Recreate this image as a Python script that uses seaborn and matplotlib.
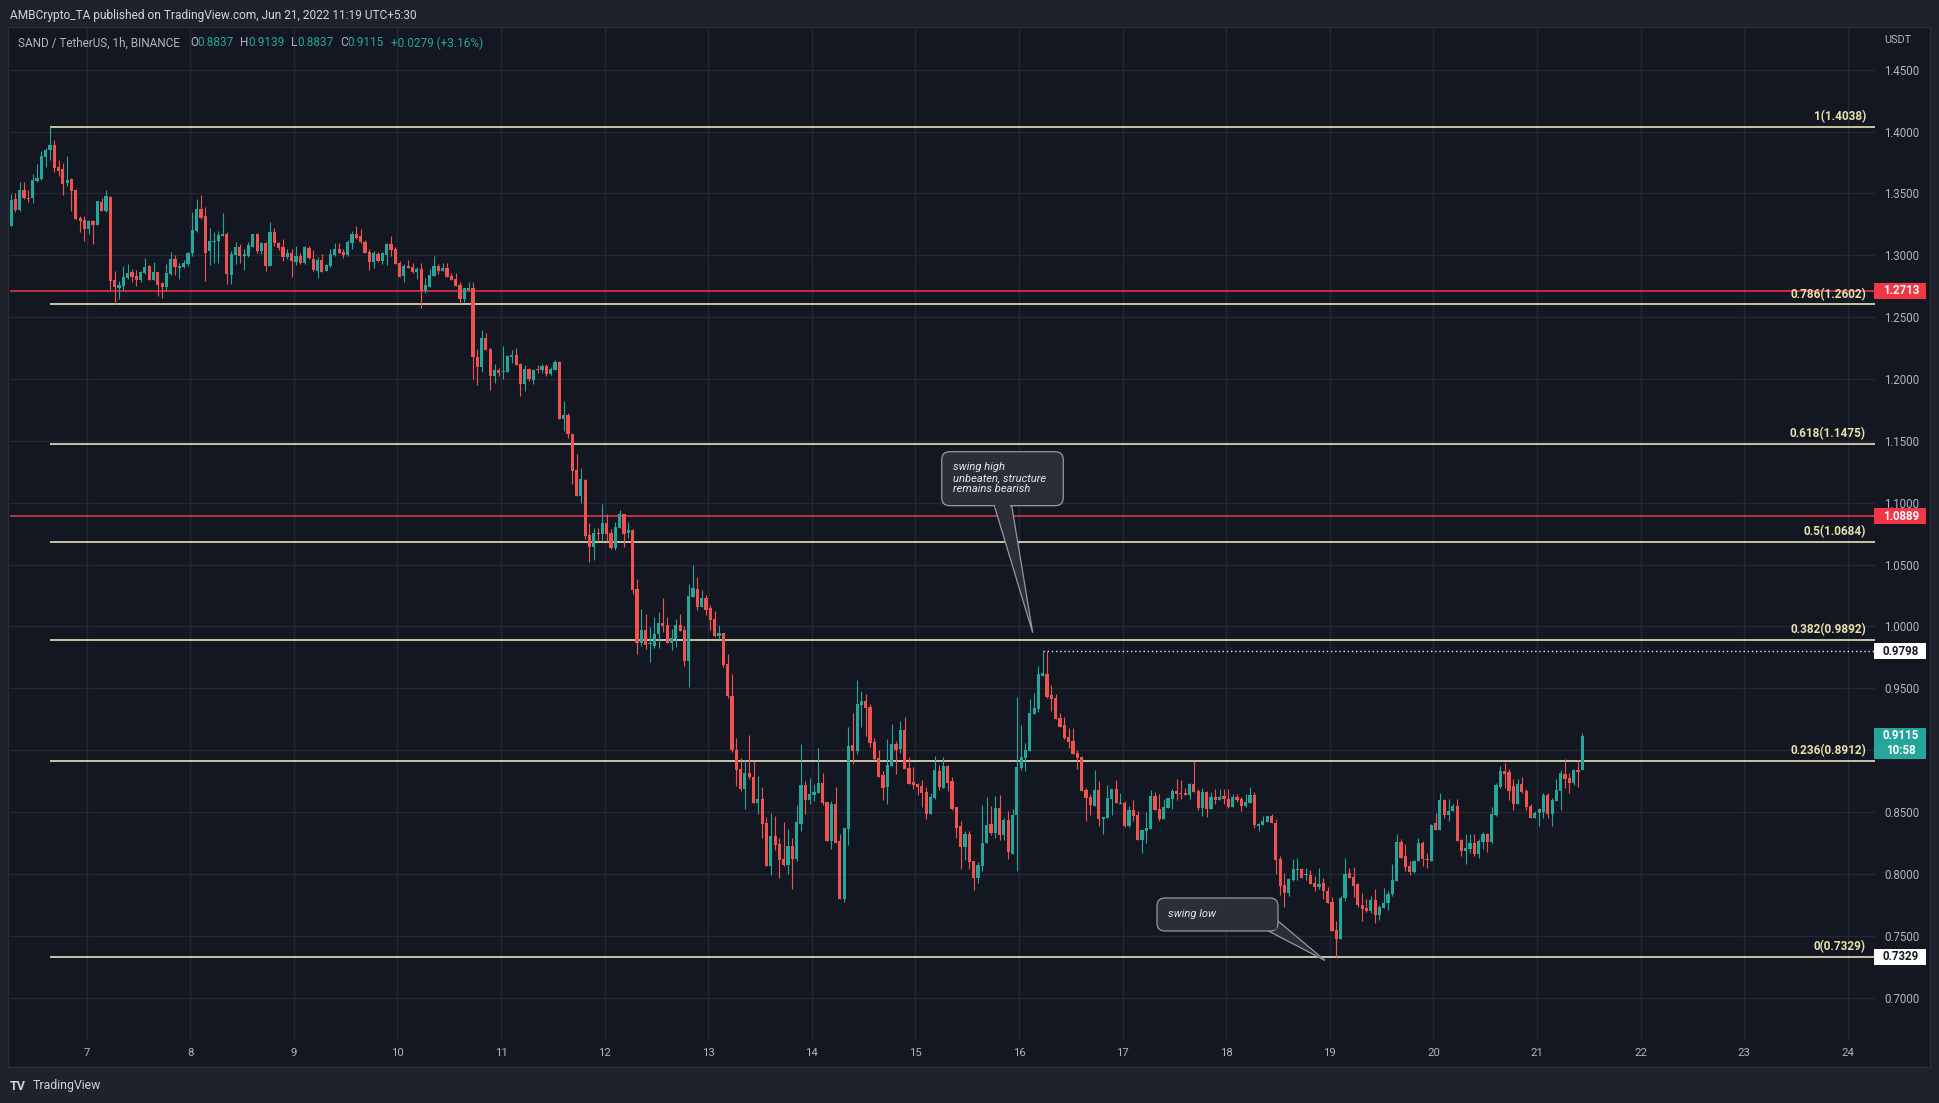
import numpy as np
import pandas as pd
import matplotlib
matplotlib.use("Agg")
import matplotlib.pyplot as plt
import seaborn as sns
from matplotlib.patches import FancyBboxPatch, Polygon, Rectangle

# ---------------- data (SAND/USDT 1h) ----------------
first_candle = "2022-06-06 06:30"
opens = [
 1.3238,1.3453,1.3365,1.3526,1.3464,1.3459,1.3599,1.3615,1.3796,1.3847,
 1.3890,1.3712,1.3696,1.3583,1.3615,1.3526,1.3302,1.3281,1.3211,1.3276,
 1.3243,1.3429,1.3356,1.3470,1.2796,1.2734,1.2753,1.2820,1.2863,1.2831,
 1.2801,1.2858,1.2912,1.2801,1.2863,1.2774,1.2745,1.2850,1.2968,1.2898,
 1.2904,1.2928,1.3019,1.3197,1.3373,1.3316,1.3036,1.3108,1.3117,1.3157,
 1.3170,1.2842,1.3003,1.3065,1.2992,1.2995,1.3065,1.3170,1.3036,1.3098,
 1.2914,1.3184,1.3095,1.3063,1.2985,1.3022,1.2944,1.2992,1.2936,1.3057,
 1.2968,1.2874,1.2960,1.2874,1.2914,1.3003,1.3049,1.3028,1.3001,1.3098,
 1.3170,1.3154,1.3106,1.3025,1.2944,1.3009,1.2952,1.3001,1.3090,1.3049,
 1.2936,1.2831,1.2909,1.2904,1.2863,1.2887,1.2707,1.2745,1.2831,1.2909,
 1.2871,1.2895,1.2831,1.2807,1.2758,1.2645,1.2718,1.2734,1.2181,1.2098,
 1.2330,1.2241,1.2025,1.2071,1.2057,1.2057,1.2178,1.2192,1.2119,1.1958,
 1.2079,1.1993,1.2079,1.2071,1.2103,1.2038,1.2073,1.2138,1.1675,1.1707,
 1.1553,1.1262,1.1055,1.1181,1.0737,1.0642,1.0758,1.0745,1.0834,1.0753,
 1.0632,1.0796,1.0906,1.0753,1.0777,1.0300,0.9863,0.9969,0.9855,0.9842,
 0.9936,1.0025,1.0009,0.9869,0.9896,1.0009,0.9969,0.9721,1.0238,1.0300,
 1.0157,1.0227,1.0146,1.0058,0.9923,0.9944,0.9694,0.9438,0.9002,0.8845,
 0.8684,0.8818,0.8786,0.8576,0.8603,0.8409,0.8064,0.8306,0.8239,0.8118,
 0.8069,0.8225,0.8118,0.8401,0.8716,0.8597,0.8638,0.8654,0.8732,0.8578,
 0.8266,0.8562,0.8263,0.7794,0.8360,0.9040,0.8994,0.9366,0.9395,0.9347,
 0.9064,0.8934,0.8797,0.8700,0.8870,0.9048,0.9007,0.9161,0.8853,0.8740,
 0.8724,0.8708,0.8659,0.8481,0.8611,0.8829,0.8692,0.8870,0.8748,0.8538,
 0.8384,0.8215,0.8320,0.8102,0.7964,0.8064,0.8247,0.8401,0.8328,0.8536,
 0.8312,0.8436,0.8158,0.8473,0.8854,0.8934,0.8991,0.9290,0.9331,0.9597,
 0.9614,0.9444,0.9419,0.9261,0.9201,0.9104,0.9072,0.8975,0.8942,0.8676,
 0.8619,0.8546,0.8676,0.8441,0.8449,0.8603,0.8684,0.8562,0.8573,0.8387,
 0.8514,0.8473,0.8271,0.8347,0.8360,0.8630,0.8522,0.8441,0.8530,0.8603,
 0.8667,0.8654,0.8654,0.8638,0.8724,0.8667,0.8535,0.8662,0.8522,0.8619,
 0.8595,0.8627,0.8608,0.8541,0.8619,0.8603,0.8549,0.8570,0.8635,0.8387,
 0.8393,0.8420,0.8465,0.8414,0.8118,0.7907,0.7843,0.7951,0.8029,0.8042,
 0.7988,0.7988,0.7924,0.7894,0.7924,0.7859,0.7770,0.7544,0.7471,0.7808,
 0.8005,0.7972,0.7916,0.7746,0.7727,0.7700,0.7786,0.7665,0.7727,0.7762,
 0.7835,0.7945,0.8261,0.8145,0.8064,0.8015,0.8102,0.8253,0.8123,0.8104,
 0.8409,0.8355,0.8598,0.8474,0.8506,0.8549,0.8271,0.8183,0.8199,0.8247,
 0.8158,0.8258,0.8320,0.8261,0.8474,0.8705,0.8832,0.8824,0.8711,0.8563,
 0.8724,0.8670,0.8549,0.8449,0.8490,0.8503,0.8635,0.8482,0.8589,0.8670,
 0.8805,0.8772,0.8732,0.8840,0.8837]
highs = [
 1.3494,1.3502,1.3588,1.3588,1.3526,1.3655,1.3734,1.3844,1.3863,1.4038,
 1.3930,1.3769,1.3742,1.3801,1.3623,1.3534,1.3319,1.3319,1.3284,1.3284,
 1.3435,1.3459,1.3526,1.3475,1.2871,1.2793,1.2909,1.2928,1.2887,1.2879,
 1.2874,1.2976,1.2920,1.2949,1.2863,1.2780,1.2928,1.3030,1.3001,1.2941,
 1.2960,1.3030,1.3346,1.3453,1.3483,1.3386,1.3224,1.3184,1.3197,1.3340,
 1.3184,1.3036,1.3103,1.3090,1.3049,1.3108,1.3170,1.3178,1.3103,1.3103,
 1.3265,1.3219,1.3108,1.3130,1.3049,1.3049,1.3076,1.3022,1.3076,1.3076,
 1.3041,1.2982,1.3009,1.2933,1.3049,1.3095,1.3098,1.3049,1.3125,1.3197,
 1.3238,1.3211,1.3122,1.3054,1.3036,1.3030,1.3028,1.3098,1.3157,1.3063,
 1.2955,1.2928,1.2960,1.2941,1.2904,1.2936,1.2817,1.2887,1.2990,1.2928,
 1.2941,1.2941,1.2855,1.2855,1.2780,1.2734,1.2780,1.2780,1.2246,1.2394,
 1.2370,1.2254,1.2119,1.2092,1.2268,1.2192,1.2232,1.2254,1.2133,1.2111,
 1.2092,1.2079,1.2111,1.2119,1.2119,1.2100,1.2152,1.2146,1.1820,1.1728,
 1.1553,1.1392,1.1284,1.1195,1.0834,1.0799,1.0799,1.0987,1.0912,1.0785,
 1.0845,1.0939,1.0906,1.0845,1.0785,1.0381,1.0138,1.0098,0.9996,1.0079,
 1.0117,1.0233,1.0079,0.9977,1.0058,1.0098,1.0004,1.0340,1.0494,1.0400,
 1.0295,1.0254,1.0171,1.0122,1.0009,0.9944,0.9780,0.9614,0.9096,0.8934,
 0.8918,0.9120,0.8913,0.8789,0.8705,0.8463,0.8490,0.8466,0.8288,0.8417,
 0.8360,0.8288,0.8560,0.9048,0.8748,0.8772,0.8724,0.9021,0.8813,0.8578,
 0.8586,0.8705,0.8320,0.8368,0.9185,0.9298,0.9565,0.9476,0.9457,0.9371,
 0.9096,0.8999,0.8829,0.9088,0.9209,0.9072,0.9233,0.9266,0.8943,0.8861,
 0.8732,0.8756,0.8705,0.8651,0.8950,0.8878,0.8943,0.8878,0.8781,0.8538,
 0.8425,0.8344,0.8344,0.8102,0.8094,0.8554,0.8624,0.8549,0.8630,0.8635,
 0.8449,0.8509,0.8522,0.9433,0.9201,0.9056,0.9411,0.9460,0.9681,0.9798,
 0.9798,0.9525,0.9452,0.9304,0.9266,0.9177,0.9177,0.8999,0.8953,0.8697,
 0.8643,0.8837,0.8748,0.8457,0.8719,0.8684,0.8756,0.8654,0.8592,0.8549,
 0.8595,0.8506,0.8352,0.8500,0.8676,0.8659,0.8643,0.8603,0.8611,0.8684,
 0.8765,0.8756,0.8697,0.8737,0.8913,0.8684,0.8697,0.8667,0.8659,0.8684,
 0.8684,0.8684,0.8684,0.8643,0.8643,0.8624,0.8643,0.8703,0.8662,0.8414,
 0.8468,0.8468,0.8481,0.8441,0.8145,0.8010,0.7970,0.8118,0.8131,0.8050,
 0.8050,0.8029,0.7983,0.8045,0.7970,0.7894,0.7816,0.7619,0.7821,0.8131,
 0.8050,0.8058,0.7929,0.7848,0.7794,0.7821,0.7875,0.7746,0.7889,0.7862,
 0.8077,0.8325,0.8280,0.8245,0.8104,0.8110,0.8293,0.8266,0.8166,0.8401,
 0.8495,0.8657,0.8608,0.8608,0.8562,0.8603,0.8280,0.8320,0.8320,0.8320,
 0.8280,0.8339,0.8333,0.8541,0.8738,0.8872,0.8894,0.8845,0.8765,0.8765,
 0.8786,0.8684,0.8562,0.8509,0.8536,0.8651,0.8651,0.8616,0.8765,0.8840,
 0.8926,0.8813,0.8845,0.8921,0.9139]
lows = [
 1.3238,1.3351,1.3359,1.3453,1.3432,1.3421,1.3588,1.3607,1.3715,1.3769,
 1.3669,1.3642,1.3488,1.3558,1.3359,1.3292,1.3184,1.3117,1.3170,1.3090,
 1.3243,1.3356,1.3346,1.2718,1.2602,1.2645,1.2720,1.2807,1.2785,1.2753,
 1.2780,1.2852,1.2801,1.2801,1.2672,1.2656,1.2712,1.2844,1.2842,1.2807,
 1.2893,1.2914,1.2995,1.3184,1.3292,1.2793,1.2922,1.2936,1.2936,1.3157,
 1.2766,1.2766,1.2928,1.2941,1.2879,1.2982,1.3065,1.3022,1.3009,1.2874,
 1.2909,1.3076,1.3041,1.2955,1.2968,1.2825,1.2922,1.2928,1.2928,1.2968,
 1.2874,1.2817,1.2861,1.2874,1.2901,1.2990,1.3017,1.2976,1.2990,1.3049,
 1.3130,1.3098,1.3019,1.2882,1.2895,1.2944,1.2928,1.2920,1.2995,1.2928,
 1.2823,1.2785,1.2895,1.2855,1.2807,1.2575,1.2693,1.2745,1.2831,1.2847,
 1.2871,1.2823,1.2801,1.2753,1.2613,1.2623,1.2718,1.1998,1.1952,1.2057,
 1.2232,1.1912,1.1968,1.2025,1.1998,1.2057,1.2133,1.2111,1.1863,1.1904,
 1.1985,1.1958,1.2052,1.2047,1.2025,1.2030,1.2073,1.1675,1.1580,1.1526,
 1.1154,1.1055,1.1001,1.0704,1.0521,1.0537,1.0691,1.0691,1.0691,1.0623,
 1.0618,1.0796,1.0642,1.0712,1.0260,0.9775,0.9842,0.9815,0.9713,0.9828,
 0.9823,0.9955,0.9869,0.9810,0.9834,0.9963,0.9680,0.9510,1.0238,1.0130,
 1.0157,1.0093,0.9971,0.9918,0.9896,0.9672,0.9424,0.8986,0.8711,0.8670,
 0.8522,0.8765,0.8576,0.8482,0.8290,0.8064,0.7988,0.8193,0.7964,0.8064,
 0.7996,0.7875,0.8102,0.8347,0.8482,0.8562,0.8589,0.8654,0.8554,0.8266,
 0.8198,0.8247,0.7794,0.7773,0.8234,0.8889,0.8967,0.9188,0.9112,0.9029,
 0.8918,0.8783,0.8597,0.8562,0.8870,0.8805,0.8975,0.8845,0.8724,0.8683,
 0.8635,0.8538,0.8441,0.8481,0.8603,0.8675,0.8692,0.8667,0.8514,0.8287,
 0.8037,0.8110,0.8037,0.7867,0.7924,0.8024,0.8247,0.8312,0.8293,0.8274,
 0.8274,0.8118,0.8158,0.8024,0.8840,0.8832,0.8991,0.9290,0.9309,0.9597,
 0.9425,0.9317,0.9250,0.9185,0.9088,0.9015,0.8967,0.8845,0.8668,0.8428,
 0.8474,0.8546,0.8387,0.8320,0.8449,0.8476,0.8570,0.8562,0.8382,0.8382,
 0.8428,0.8271,0.8172,0.8247,0.8360,0.8514,0.8428,0.8441,0.8530,0.8522,
 0.8595,0.8603,0.8635,0.8603,0.8662,0.8514,0.8468,0.8460,0.8522,0.8562,
 0.8595,0.8562,0.8535,0.8541,0.8581,0.8508,0.8541,0.8570,0.8371,0.8347,
 0.8393,0.8420,0.8409,0.7997,0.7827,0.7732,0.7821,0.7943,0.7951,0.7964,
 0.7948,0.7916,0.7862,0.7875,0.7794,0.7762,0.7538,0.7329,0.7471,0.7781,
 0.7964,0.7816,0.7732,0.7619,0.7692,0.7687,0.7600,0.7627,0.7727,0.7708,
 0.7821,0.7945,0.8131,0.8024,0.7991,0.8010,0.8102,0.8064,0.8050,0.8104,
 0.8355,0.8355,0.8455,0.8428,0.8506,0.8266,0.8145,0.8083,0.8172,0.8145,
 0.8131,0.8199,0.8177,0.8253,0.8468,0.8697,0.8697,0.8597,0.8514,0.8563,
 0.8657,0.8514,0.8449,0.8449,0.8387,0.8455,0.8449,0.8387,0.8589,0.8517,
 0.8697,0.8651,0.8716,0.8705,0.8837]
closes = [
 1.3448,1.3367,1.3526,1.3459,1.3453,1.3607,1.3623,1.3804,1.3847,1.3890,
 1.3704,1.3682,1.3577,1.3612,1.3521,1.3292,1.3276,1.3211,1.3276,1.3243,
 1.3435,1.3356,1.3475,1.2790,1.2745,1.2758,1.2828,1.2858,1.2825,1.2798,
 1.2863,1.2904,1.2801,1.2863,1.2761,1.2745,1.2855,1.2968,1.2906,1.2917,
 1.2936,1.3022,1.3203,1.3373,1.3302,1.3022,1.3114,1.3114,1.3162,1.3170,
 1.2847,1.3009,1.3065,1.2995,1.3009,1.3084,1.3170,1.3036,1.3098,1.2914,
 1.3184,1.3095,1.3055,1.2985,1.3022,1.2952,1.2992,1.2939,1.3065,1.2979,
 1.2879,1.2960,1.2866,1.2920,1.3009,1.3049,1.3017,1.3001,1.3106,1.3170,
 1.3143,1.3106,1.3019,1.2947,1.3017,1.2952,1.3017,1.3090,1.3044,1.2928,
 1.2823,1.2909,1.2895,1.2863,1.2887,1.2707,1.2758,1.2839,1.2909,1.2871,
 1.2895,1.2823,1.2801,1.2753,1.2645,1.2734,1.2734,1.2176,1.2098,1.2330,
 1.2232,1.2025,1.2071,1.2052,1.2063,1.2184,1.2192,1.2111,1.1958,1.2079,
 1.1998,1.2071,1.2071,1.2103,1.2038,1.2079,1.2136,1.1675,1.1707,1.1553,
 1.1257,1.1055,1.1189,1.0731,1.0642,1.0758,1.0745,1.0834,1.0750,1.0632,
 1.0807,1.0906,1.0745,1.0777,1.0295,0.9863,0.9969,0.9850,0.9861,0.9936,
 1.0025,1.0004,0.9869,0.9904,1.0009,0.9963,0.9721,1.0246,1.0308,1.0157,
 1.0227,1.0130,1.0052,0.9923,0.9944,0.9686,0.9438,0.9000,0.8840,0.8684,
 0.8813,0.8783,0.8576,0.8603,0.8401,0.8064,0.8306,0.8231,0.8110,0.8069,
 0.8225,0.8118,0.8417,0.8716,0.8597,0.8643,0.8662,0.8732,0.8570,0.8266,
 0.8562,0.8252,0.7794,0.8368,0.9031,0.8994,0.9371,0.9395,0.9341,0.9056,
 0.8926,0.8783,0.8692,0.8878,0.9048,0.8999,0.9161,0.8845,0.8724,0.8716,
 0.8700,0.8651,0.8481,0.8619,0.8837,0.8700,0.8870,0.8732,0.8522,0.8368,
 0.8215,0.8320,0.8094,0.7964,0.8069,0.8253,0.8393,0.8328,0.8536,0.8312,
 0.8436,0.8177,0.8473,0.8862,0.8942,0.8999,0.9298,0.9339,0.9614,0.9622,
 0.9433,0.9411,0.9250,0.9185,0.9096,0.9064,0.8967,0.8934,0.8668,0.8611,
 0.8554,0.8676,0.8441,0.8457,0.8611,0.8684,0.8570,0.8573,0.8387,0.8514,
 0.8468,0.8271,0.8352,0.8371,0.8630,0.8514,0.8441,0.8538,0.8611,0.8670,
 0.8643,0.8643,0.8638,0.8724,0.8662,0.8535,0.8662,0.8522,0.8619,0.8595,
 0.8624,0.8603,0.8541,0.8619,0.8595,0.8549,0.8578,0.8635,0.8393,0.8401,
 0.8428,0.8465,0.8409,0.8112,0.7902,0.7843,0.7956,0.8037,0.8042,0.7964,
 0.8002,0.7916,0.7894,0.7916,0.7862,0.7762,0.7538,0.7471,0.7808,0.7997,
 0.7964,0.7902,0.7746,0.7719,0.7700,0.7786,0.7665,0.7735,0.7762,0.7840,
 0.7951,0.8261,0.8131,0.8058,0.8015,0.8107,0.8253,0.8118,0.8112,0.8395,
 0.8355,0.8598,0.8474,0.8511,0.8549,0.8266,0.8183,0.8207,0.8247,0.8158,
 0.8266,0.8320,0.8261,0.8482,0.8716,0.8832,0.8805,0.8670,0.8563,0.8724,
 0.8662,0.8541,0.8449,0.8495,0.8522,0.8635,0.8482,0.8597,0.8676,0.8813,
 0.8765,0.8732,0.8840,0.8824,0.9115]

fib_ratios = ["1", "0.786", "0.618", "0.5", "0.382", "0.236", "0"]
fib_levels = [1.4038, 1.2602, 1.1475, 1.0684, 0.9892, 0.8912, 0.7329]
red_levels = [1.2713, 1.0889]
swing_high_level = 0.9798
price_ticks = [0.70, 0.75, 0.80, 0.85, 0.90, 0.95, 1.00, 1.05, 1.10, 1.15,
               1.20, 1.25, 1.30, 1.35, 1.40, 1.45]
day_labels = [str(d) for d in range(7, 25)]
last_price = 0.9115
countdown = "10:58"

# ---------------- style ----------------
sns.set_theme(style="dark", rc={"axes.facecolor": "none", "figure.facecolor": "#1e222d"})
plt.rcParams["font.family"] = ["Roboto", "DejaVu Sans"]

BG = "#131722"
OUTER = "#1e222d"
GRID = "#242733"
UP = "#26a69a"
DOWN = "#ef5350"
FIB = "#fbf3c9"
FIBTXT = "#e9dfab"
AXTXT = "#b2b5be"

W, H = 1940, 1103
fig = plt.figure(figsize=(W / 100, H / 100), dpi=100, facecolor=OUTER)

def frac(x0, y0, x1, y1):
    return [x0 / W, 1 - y1 / H, (x1 - x0) / W, (y1 - y0) / H]

# background panel
bgax = fig.add_axes([0, 0, 1, 1], zorder=0)
bgax.set_xlim(0, W); bgax.set_ylim(H, 0); bgax.axis("off")
bgax.add_patch(Rectangle((8, 27), 1922, 1040, facecolor=BG, edgecolor="#2a2e39", lw=1))

# main price axes
PL, PT, PR, PB = 10, 27, 1875, 1040
ax = fig.add_axes(frac(PL, PT, PR, PB), zorder=1)
ax.set_facecolor("none")

df = pd.DataFrame({"open": opens, "high": highs, "low": lows, "close": closes})
df["time"] = pd.date_range(first_candle, periods=len(df), freq="h")
ref = pd.Timestamp("2022-06-07 00:00")
df["t"] = (df["time"] - ref) / pd.Timedelta(hours=1)
df["up"] = df["close"] >= df["open"]
df["color"] = np.where(df["up"], UP, DOWN)
df["body_lo"] = df[["open", "close"]].min(axis=1)
df["body_h"] = (df["close"] - df["open"]).abs().clip(lower=0.0009)

px_per_hour = 103.6 / 24.0
day7_px = 86.6
x_left = (PL - day7_px) / px_per_hour
x_right = (PR - day7_px) / px_per_hour
ax.set_xlim(x_left, x_right)
ax.set_ylim(0.66574, 1.48446)

# grid
ax.set_xticks([24 * i for i in range(len(day_labels))])
ax.set_xticklabels(day_labels)
ax.set_yticks(price_ticks)
ax.set_yticklabels([f"{p:.4f}" for p in price_ticks])
ax.grid(True, color=GRID, lw=1.0)
ax.set_axisbelow(True)
for s in ax.spines.values():
    s.set_visible(False)
ax.yaxis.tick_right()
ax.tick_params(axis="x", length=0, pad=6, labelsize=8.2, labelcolor=AXTXT)
ax.tick_params(axis="y", length=0, pad=6.5, labelsize=8.3, labelcolor=AXTXT)

# red horizontal levels (full width)
ax.hlines(red_levels, x_left, x_right, color="#f23645", lw=1.1, zorder=2)

# fib retracement lines
fib_start = df["t"].iloc[int(np.argmax(highs))]
ax.hlines(fib_levels, fib_start, x_right, color=FIB, lw=1.1, zorder=2)
for r, lv in zip(fib_ratios, fib_levels):
    ax.annotate(f"{r}({lv:.4f})", xy=(x_right, lv), xytext=(-9, 3.5),
                textcoords="offset pixels", ha="right", va="bottom",
                fontsize=8.5, fontweight="bold", color=FIBTXT, zorder=6)

# swing high dotted line
sh_t = df["t"].iloc[int(np.argmax(np.array(highs[200:]))) + 200]
ax.hlines([swing_high_level], sh_t, x_right, color="#e8e8e8", lw=1.0,
          linestyles=(0, (1, 2)), zorder=2)

# candles
ax.vlines(df["t"], df["low"], df["high"], colors=df["color"], lw=0.8, zorder=3)
ax.bar(df["t"], df["body_h"], bottom=df["body_lo"], width=0.74,
       color=df["color"], linewidth=0, zorder=4)

# ---------------- overlay (text, boxes, callouts) ----------------
ov = fig.add_axes([0, 0, 1, 1], zorder=5)
ov.set_xlim(0, W); ov.set_ylim(H, 0); ov.axis("off")
ov.patch.set_alpha(0)

fig.canvas.draw()

def py(p):
    return H - ax.transData.transform((0, p))[1]

ov.text(10, 15, "AMBCrypto_TA published on TradingView.com, Jun 21, 2022 11:19 UTC+5:30",
        fontsize=8.55, color="#d1d4dc", va="center", ha="left")

sym_parts = [
    (17.8, "SAND / TetherUS, 1h, BINANCE", AXTXT),
    (190.5, "O", AXTXT), (197.6, "0.8837", UP),
    (240.5, "H", AXTXT), (248.0, "0.9139", UP),
    (291.5, "L", AXTXT), (297.6, "0.8837", UP),
    (340.5, "C", AXTXT), (347.0, "0.9115", UP),
    (391.3, "+0.0279 (+3.16%)", UP),
]
for x, s, c in sym_parts:
    ov.text(x, 43, s, fontsize=8.5, color=c, va="center", ha="left")

ov.text(1884, 40, "USDT", fontsize=7.8, color=AXTXT, va="center", ha="left")

# right-scale price tags
def tag(price, text, fc, tc, h=16):
    y = py(price)
    ov.add_patch(Rectangle((1874, y - h / 2), 52, h, facecolor=fc, edgecolor="none", zorder=7))
    ov.text(1901, y, text, fontsize=8.3, color=tc, ha="center", va="center",
            fontweight="bold", zorder=8)

tag(red_levels[0], f"{red_levels[0]:.4f}", "#f23645", "white")
tag(red_levels[1], f"{red_levels[1]:.4f}", "#f23645", "white")
tag(swing_high_level, f"{swing_high_level:.4f}", "white", "#131722")
tag(fib_levels[-1], f"{fib_levels[-1]:.4f}", "white", "#131722")
yl = py(last_price)
ov.add_patch(Rectangle((1874, yl - 8), 52, 31, facecolor=UP, edgecolor="none", zorder=7))
ov.text(1901, yl, f"{last_price:.4f}", fontsize=8.3, color="white", ha="center",
        va="center", fontweight="bold", zorder=8)
ov.text(1901, yl + 15, countdown, fontsize=8.3, color="white", ha="center",
        va="center", fontweight="bold", zorder=8)

# callouts
CFILL = "#2a2e39"
CEDGE = "#9598a1"

def callout(x0, y0, w, h, pointer, cover, lines, tx, ty, lsp):
    ov.add_patch(Polygon(pointer, closed=True, facecolor=CFILL, edgecolor=CEDGE, lw=0.9, zorder=8))
    ov.add_patch(FancyBboxPatch((x0, y0), w, h, boxstyle="round,pad=0,rounding_size=8",
                                facecolor=CFILL, edgecolor=CEDGE, lw=0.9, zorder=8))
    ov.add_patch(Polygon(cover, closed=True, facecolor=CFILL, edgecolor="none", zorder=9))
    for i, s in enumerate(lines):
        ov.text(tx, ty + i * lsp, s, fontsize=8.0, style="italic", color="#e6e8ee",
                ha="left", va="center", zorder=10)

callout(941.7, 451.7, 121.6, 54.0,
        [(994.3, 505.7), (1032.7, 632.7), (1011.7, 505.7)],
        [(995.5, 503.5), (1010.5, 503.5), (1010.5, 507.5), (995.5, 507.5)],
        ["swing high", "unbeaten, structure", "remains bearish"], 952.7, 467, 11)

callout(1157, 898, 121, 33,
        [(1268.5, 931), (1325, 960.5), (1278, 921)],
        [(1267.5, 929.5), (1276.5, 920.5), (1276.5, 929.5)],
        ["swing low"], 1168, 914, 11)

# TradingView logo
ov.text(10, 1086, "TV", fontsize=9, fontweight="bold", color="#d1d4dc", va="center", ha="left")
ov.text(33, 1086, "TradingView", fontsize=8.8, color="#d1d4dc", va="center", ha="left")

fig.savefig("out.png", dpi=100, facecolor=OUTER)
